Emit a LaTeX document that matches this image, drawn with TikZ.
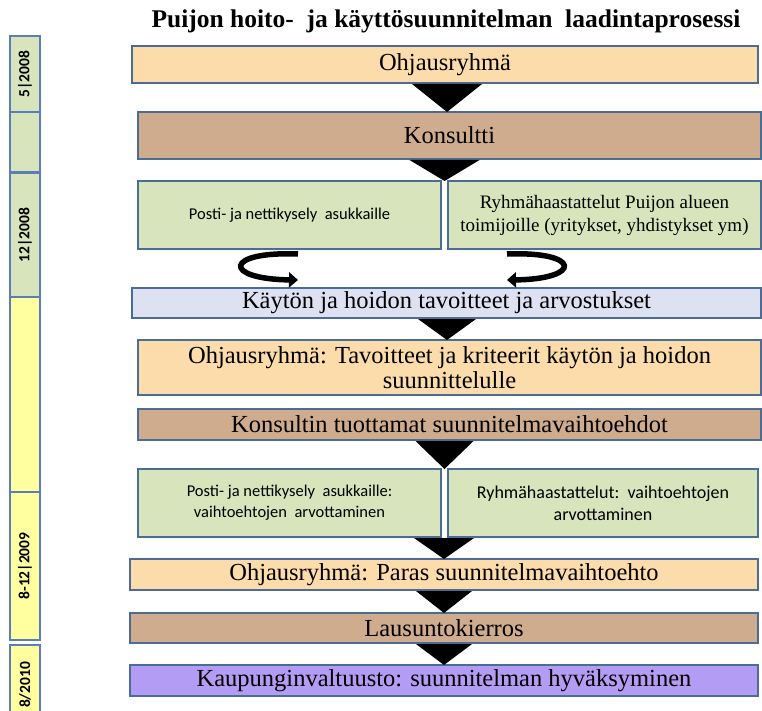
\documentclass[tikz,border=0pt]{standalone}
\usepackage{fontspec}
\setmainfont{Liberation Serif}
\newfontfamily\calibrifont{Carlito}
\usetikzlibrary{arrows.meta,calc}
\definecolor{cpeach}{HTML}{FCDCAA}
\definecolor{ctan}{HTML}{CFAC8E}
\definecolor{cgreen}{HTML}{D8E4BC}
\definecolor{clav}{HTML}{DDE1F1}
\definecolor{cpurple}{HTML}{B39CF3}
\definecolor{cyellow}{HTML}{FFFFA0}
\definecolor{cborder}{HTML}{4B6C96}
\definecolor{ccol}{HTML}{5C7DB8}
\begin{document}
\begin{tikzpicture}[x=1pt,y=-1pt,
  box/.style={draw=cborder, line width=1.4pt, anchor=north west, inner sep=0pt, outer sep=0pt,
    align=center, font=\fontsize{24.5}{25}\selectfont},
  tl/.style={draw=ccol, line width=1.3pt, anchor=north west, inner sep=0pt, outer sep=0pt,
    minimum width=30pt},
  tltext/.style={rotate=90, font=\calibrifont\bfseries\fontsize{15.5}{16}\selectfont},
  tri/.style={fill=black},
  curl/.style={line width=5.5pt, -{Triangle[length=9pt,width=15pt]}}
]
\useasboundingbox (0,0) rectangle (762,711);
\begin{scope}
\clip (0,0) rectangle (762,711);
% title
\node[font=\bfseries\fontsize{25.5}{27}\selectfont, anchor=center] (title) at (446,21)
  {Puijon hoito-\ \ ja käyttösuunnitelman\ \ laadintaprosessi};

% left timeline
\node[tl, fill=cgreen, minimum height=76pt] (t1) at (10,36) {};
\node[tl, fill=cgreen, minimum height=60pt] (t2) at (10,112) {};
\node[tl, fill=cgreen, minimum height=124pt] (t3) at (10,173) {};
\node[tl, fill=cyellow, minimum height=195pt] (t4) at (10,297) {};
\node[tl, fill=cyellow, minimum height=148pt] (t5) at (10,492) {};
\node[tl, fill=cyellow, minimum height=75pt] (t6) at (10,645) {};
\node[tltext] (l1) at (t1.center) {5|2008};
\node[tltext] (l3) at (t3.center) {12|2008};
\node[tltext] (l5) at (t5.center) {8-12|2009};
\node[tltext] (l6) at (25,685) {8/2010};

% main boxes
\node[box, fill=cpeach, minimum width=626pt, minimum height=37pt] (b1) at (132,46) {Ohjausryhmä};
\node[box, fill=ctan, minimum width=623pt, minimum height=47pt] (b2) at (138,112) {Konsultti};
\node[box, fill=cgreen, minimum width=303pt, minimum height=68pt,
  font=\calibrifont\fontsize{16.5}{19}\selectfont] (b3a) at (138,181) {Posti- ja nettikysely\ \ asukkaille};
\node[box, fill=cgreen, minimum width=313pt, minimum height=68pt,
  font=\fontsize{19}{23}\selectfont] (b3b) at (448,181) {Ryhmähaastattelut Puijon alueen\\toimijoille (yritykset, yhdistykset ym)};
\node[box, fill=clav, minimum width=629pt, minimum height=30pt] (b4) at (132,288) {Käytön ja hoidon tavoitteet ja arvostukset};
\node[box, fill=cpeach, minimum width=623pt, minimum height=55pt] (b5) at (138,340) {Ohjausryhmä: Tavoitteet ja kriteerit käytön ja hoidon\\suunnittelulle};
\node[box, fill=ctan, minimum width=623pt, minimum height=31pt] (b6) at (138,409) {Konsultin tuottamat suunnitelmavaihtoehdot};
\node[box, fill=cgreen, minimum width=303pt, minimum height=68pt,
  font=\calibrifont\fontsize{16.5}{21}\selectfont] (b7a) at (138,469) {Posti- ja nettikysely\ \ asukkaille:\\vaihtoehtojen\ \ arvottaminen};
\node[box, fill=cgreen, minimum width=310pt, minimum height=68pt,
  font=\calibrifont\fontsize{18}{22}\selectfont] (b7b) at (448,469) {Ryhmähaastattelut:\ \ vaihtoehtojen\\arvottaminen};
\node[box, fill=cpeach, minimum width=628pt, minimum height=31pt] (b8) at (130,559) {Ohjausryhmä: Paras suunnitelmavaihtoehto};
\node[box, fill=ctan, minimum width=628pt, minimum height=30pt] (b9) at (130,613) {Lausuntokierros};
\node[box, fill=cpurple, minimum width=628pt, minimum height=31pt] (b10) at (130,665) {Kaupunginvaltuusto: suunnitelman hyväksyminen};

% triangle connectors
\coordinate (a1) at (447,112);
\coordinate (a2) at ($(b3a.north east)!0.5!(b3b.north west)$);
\coordinate (a3) at (447,340);
\coordinate (a4) at ($(b7a.north east)!0.5!(b7b.north west)$);
\coordinate (a5) at (444,559);
\coordinate (a6) at (444,613);
\coordinate (a7) at (444,665);
\coordinate (s1) at (a1 |- b1.south);
\coordinate (s2) at (a2 |- b2.south);
\coordinate (s3) at (a3 |- b4.south);
\coordinate (s4) at (a4 |- b6.south);
\coordinate (s5) at (a5 |- b7a.south);
\coordinate (s6) at (a6 |- b8.south);
\coordinate (s7) at (a7 |- b9.south);
\fill[tri] ($(s1)+(-35,1)$) -- ($(s1)+(35,1)$) -- (a1) -- cycle;
\fill[tri] ($(s2)+(-35,1)$) -- ($(s2)+(35,1)$) -- (a2) -- cycle;
\fill[tri] ($(s3)+(-29,1)$) -- ($(s3)+(29,1)$) -- (a3) -- cycle;
\fill[tri] ($(s4)+(-29,1)$) -- ($(s4)+(29,1)$) -- (a4) -- cycle;
\fill[tri] ($(s5)+(-30,1)$) -- ($(s5)+(30,1)$) -- (a5) -- cycle;
\fill[tri] ($(s6)+(-28,1)$) -- ($(s6)+(28,1)$) -- (a6) -- cycle;
\fill[tri] ($(s7)+(-28,1)$) -- ($(s7)+(28,1)$) -- (a7) -- cycle;

% curled arrows
\coordinate (c1s) at (298,254);
\coordinate (c1e) at (298,280);
\coordinate (c2s) at (507,254);
\coordinate (c2e) at (507,280);
\draw[curl] (c1s) .. controls (224,251) and (222,279) .. (c1e);
\draw[curl] (c2s) .. controls (581,251) and (583,279) .. (c2e);
\end{scope}
\end{tikzpicture}
\end{document}
